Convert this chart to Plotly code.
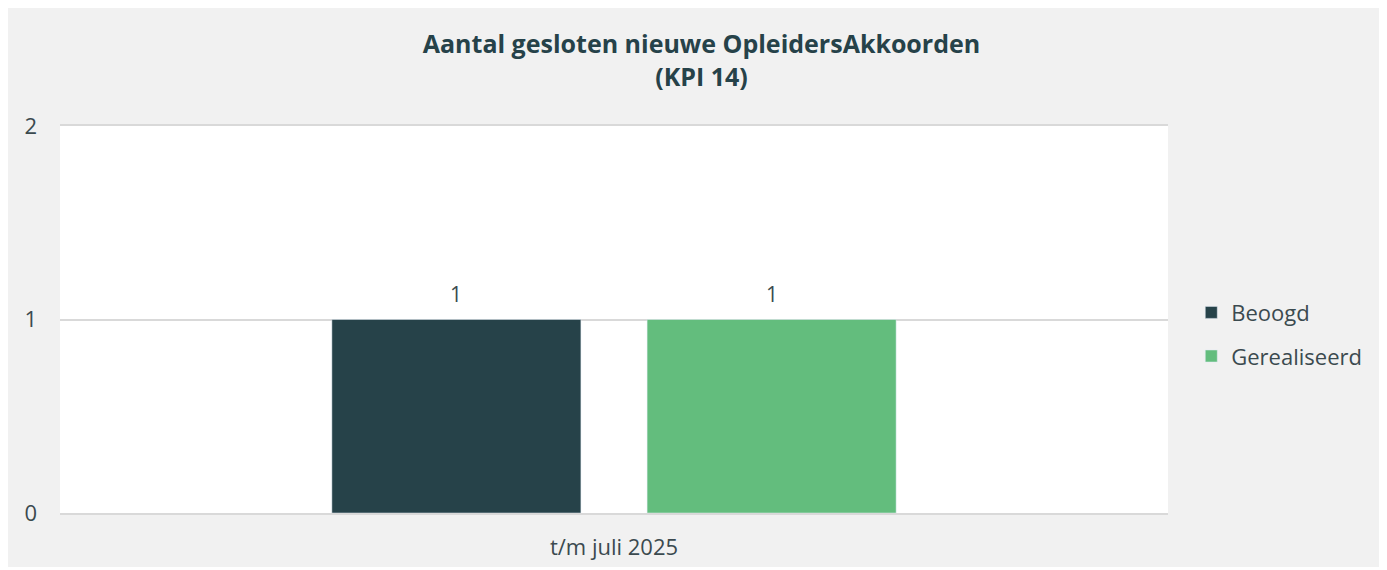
import plotly.graph_objects as go

categories = ["t/m juli 2025"]
beoogd = [1]
gerealiseerd = [1]
y_ticks = [0, 1, 2]

font_family = "Open Sans"
title_color = "#264249"
text_color = "#3b4a4f"
grid_color = "#d9d9d9"

bargap = 0.431
bargroupgap = 0.21
plot_w = 1108
slot = plot_w * (1 - bargap) / 2  # px width of each bar slot

fig = go.Figure()
fig.add_trace(go.Bar(
    name="Beoogd", x=categories, y=beoogd, marker_color="#264249", legendgroup="a",
))
fig.add_trace(go.Bar(
    name="Gerealiseerd", x=categories, y=gerealiseerd, marker_color="#63bd7d", legendgroup="b",
))

annotations = []
for i, series in enumerate([beoogd, gerealiseerd]):
    for c, v in zip(categories, series):
        annotations.append(dict(
            x=c, y=v, xref="x", yref="y", text=str(v), showarrow=False,
            xshift=(i - 0.5) * slot, yshift=26, yanchor="middle",
            font=dict(size=21, color=text_color, family=font_family),
        ))

fig.update_layout(
    width=1387, height=570,
    paper_bgcolor="#ffffff",
    plot_bgcolor="#ffffff",
    barmode="group",
    bargap=bargap,
    bargroupgap=bargroupgap,
    margin=dict(l=52, r=227, t=118, b=65),
    font=dict(family=font_family, color=text_color),
    title=dict(
        text="<b>Aantal gesloten nieuwe OpleidersAkkoorden<br>(KPI 14)</b>",
        x=0.5, xanchor="center", y=0.921, yanchor="top",
        font=dict(size=25, color=title_color, family=font_family),
    ),
    legend=dict(
        x=1.021, xanchor="left", y=0.461, yanchor="middle",
        font=dict(size=22, color=text_color, family=font_family),
        bgcolor="rgba(0,0,0,0)", tracegroupgap=12,
    ),
    annotations=annotations,
    shapes=[dict(
        type="rect", xref="paper", yref="paper",
        x0=-54/1108, x1=1 + 213/1108, y0=-54/387, y1=1 + 120/387,
        fillcolor="#f1f1f1", line=dict(width=0), layer="below",
    ), dict(
        type="rect", xref="paper", yref="paper", x0=0, x1=1, y0=0, y1=1,
        fillcolor="#ffffff", line=dict(width=0), layer="below",
    )],
)
fig.update_yaxes(
    range=[0, 2], tickvals=y_ticks, showgrid=True, gridcolor=grid_color, gridwidth=2,
    zeroline=False, showline=False, ticks="", ticklabelstandoff=22,
    tickfont=dict(size=22, color=text_color, family=font_family),
)
fig.update_xaxes(
    showline=True, mirror=True, linecolor=grid_color, linewidth=2,
    ticks="", ticklabelstandoff=14,
    tickfont=dict(size=22, color=text_color, family=font_family),
)

fig.write_html("out.html")
